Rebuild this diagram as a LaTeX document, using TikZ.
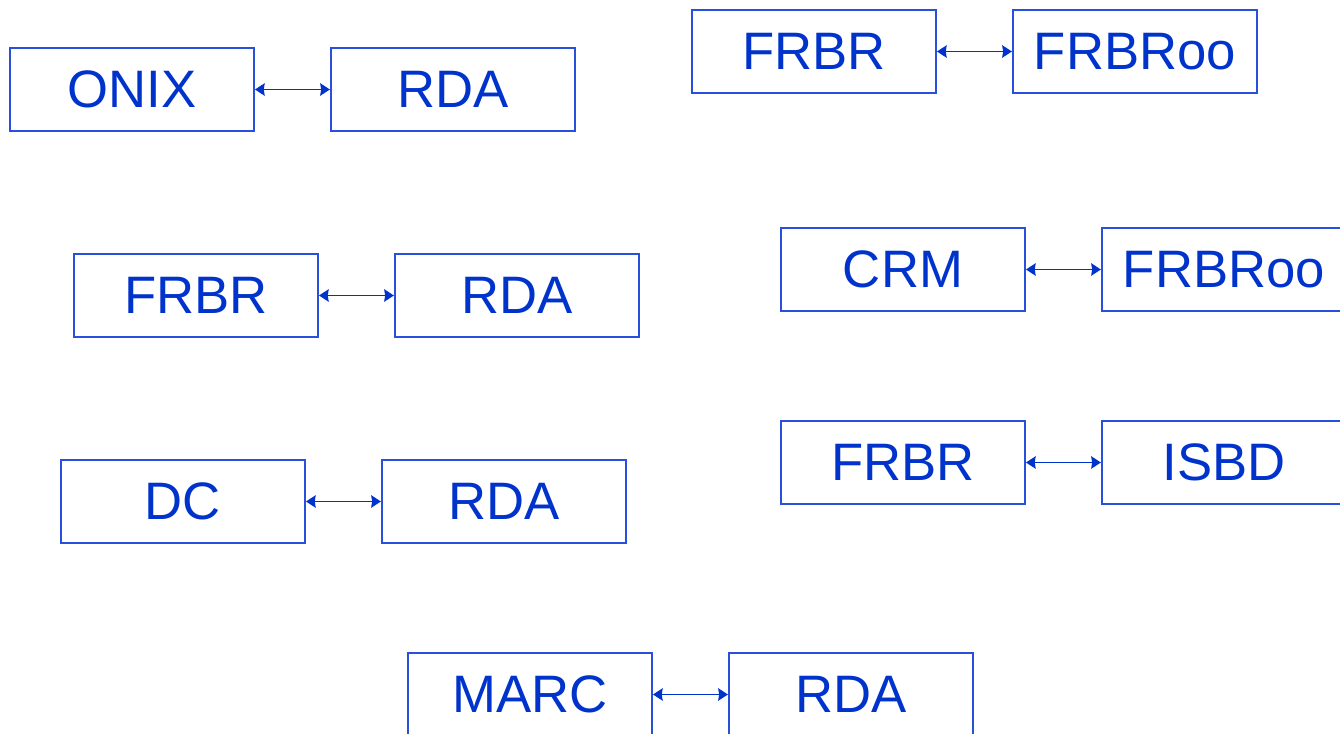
\documentclass[tikz,border=0pt]{standalone}
\usepackage{fontspec}
\setmainfont{Liberation Sans}
\usetikzlibrary{positioning,arrows.meta}
\definecolor{azul}{RGB}{0,51,204}
\definecolor{azulclaro}{RGB}{40,80,220}
\tikzset{
  caja/.style={draw=azulclaro, line width=1.1pt, text=azul, minimum width=4.88cm,
    minimum height=1.66cm, inner sep=0pt, font=\fontsize{30}{34}\selectfont},
  enlace/.style={azul, line width=1.1pt, {Stealth[length=5.5pt,width=7pt,inset=0.5pt]}-{Stealth[length=5.5pt,width=7pt,inset=0.5pt]}}
}
\begin{document}
\begin{tikzpicture}[x=0.02cm, y=-0.02cm, node distance=1.50cm]
    \useasboundingbox (0,0) rectangle (1340,734);
    \clip (0,0) rectangle (1340,734);

    % Columna izquierda
    \node[caja] (onix) at (132,89.5) {ONIX};
    \node[caja, right=of onix] (rdaA) {RDA};
    \node[caja] (frbrA) at (196,295.5) {FRBR};
    \node[caja, right=of frbrA] (rdaB) {RDA};
    \node[caja] (dc) at (183,501.5) {DC};
    \node[caja, right=of dc] (rdaC) {RDA};

    % Columna derecha
    \node[caja] (frbrB) at (814,51.5) {FRBR};
    \node[caja, right=of frbrB] (frbrooA) {FRBRoo};
    \node[caja] (crm) at (903,269.5) {CRM};
    \node[caja, right=of crm] (frbrooB) {FRBRoo};
    \node[caja] (frbrC) at (903,462.5) {FRBR};
    \node[caja, right=of frbrC] (isbd) {ISBD};

    % Abajo
    \node[caja] (marc) at (530,694.5) {MARC};
    \node[caja, right=of marc] (rdaD) {RDA};

    % Flechas dobles
    \draw[enlace] (onix) -- (rdaA);
    \draw[enlace] (frbrA) -- (rdaB);
    \draw[enlace] (dc) -- (rdaC);
    \draw[enlace] (frbrB) -- (frbrooA);
    \draw[enlace] (crm) -- (frbrooB);
    \draw[enlace] (frbrC) -- (isbd);
    \draw[enlace] (marc) -- (rdaD);
\end{tikzpicture}
\end{document}
